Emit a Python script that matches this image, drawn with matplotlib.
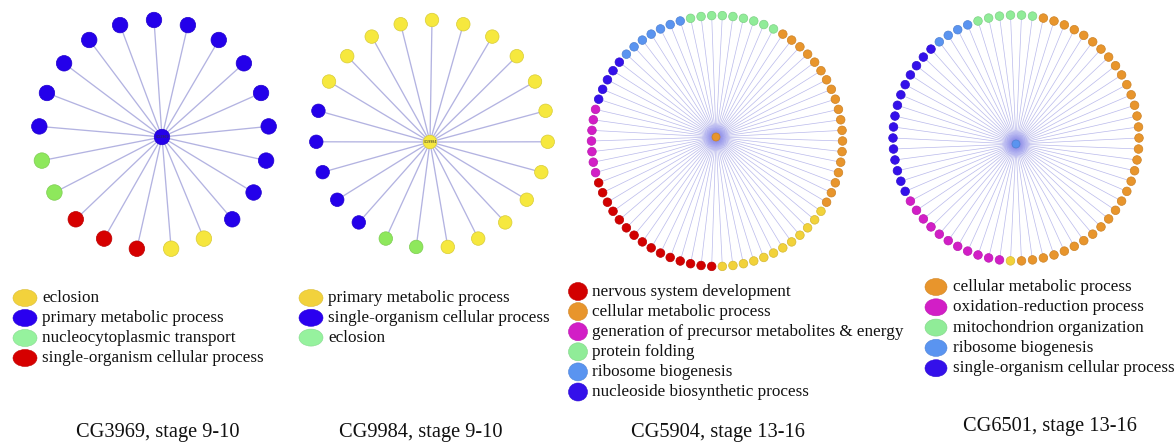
import numpy as np
import matplotlib
matplotlib.use("Agg")
import matplotlib.pyplot as plt
from matplotlib.patches import Circle, Ellipse
from matplotlib.collections import LineCollection
from matplotlib.colors import to_rgb

plt.rcParams["font.family"] = ["Liberation Serif", "DejaVu Serif"]

# ---------------- data ----------------
titles = ["CG3969, stage 9-10", "CG9984, stage 9-10",
          "CG5904, stage 13-16", "CG6501, stage 13-16"]
hub_genes = ["CG3969", "CG9984", "CG5904", "CG6501"]

# CG3969 network
net1_terms = ["eclosion", "primary metabolic process",
              "nucleocytoplasmic transport", "single-organism cellular process"]
net1_node_colors = ["#f6e63e", "#2400ea", "#8ee85c", "#d60000"]
net1_key_colors = ["#f2d23c", "#2a00f0", "#96f29e", "#d60000"]
net1_ring_terms = ["primary metabolic process", "eclosion",
                   "single-organism cellular process", "nucleocytoplasmic transport",
                   "primary metabolic process"]
net1_ring_counts = [9, 2, 3, 2, 5]
net1_hub_term = "primary metabolic process"

# CG9984 network
net2_terms = ["primary metabolic process", "single-organism cellular process", "eclosion"]
net2_node_colors = ["#f6e83e", "#2400ea", "#8ee85c"]
net2_key_colors = ["#f2d23c", "#2a00f0", "#96f29e"]
net2_ring_terms = ["primary metabolic process", "eclosion",
                   "single-organism cellular process", "primary metabolic process"]
net2_ring_counts = [12, 2, 5, 4]
net2_hub_term = "primary metabolic process"

# CG5904 network
net3_terms = ["nervous system development", "cellular metabolic process",
              "generation of precursor metabolites & energy", "protein folding",
              "ribosome biogenesis", "nucleoside biosynthetic process"]
net3_node_colors = ["#d20000", "#e8952c", "#d21ec6", "#90ec98", "#5a94f0", "#3410ea"]
net3_key_colors = net3_node_colors
net3_extra_term, net3_extra_color = "unassigned", "#f2d23a"
net3_ring_terms = ["protein folding", "cellular metabolic process", "unassigned",
                   "nervous system development",
                   "generation of precursor metabolites & energy",
                   "nucleoside biosynthetic process", "ribosome biogenesis",
                   "protein folding"]
net3_ring_counts = [6, 19, 12, 15, 7, 5, 7, 3]
net3_hub_term = "cellular metabolic process"

# CG6501 network
net4_terms = ["cellular metabolic process", "oxidation-reduction process",
              "mitochondrion organization", "ribosome biogenesis",
              "single-organism cellular process"]
net4_node_colors = ["#e8952c", "#d21ec6", "#90ec98", "#5a94f0", "#3410ea"]
net4_key_colors = net4_node_colors
net4_extra_term, net4_extra_color = "unassigned", "#f2d23a"
net4_ring_terms = ["mitochondrion organization", "cellular metabolic process",
                   "unassigned", "oxidation-reduction process",
                   "single-organism cellular process", "ribosome biogenesis",
                   "mitochondrion organization"]
net4_ring_counts = [2, 33, 1, 11, 15, 4, 4]
net4_hub_term = "ribosome biogenesis"


# ---------------- drawing helpers ----------------
def darker(c, f=0.8):
    r, g, b = to_rgb(c)
    return (r * f, g * f, b * f)


def draw_network(ax, palette, ring_terms, ring_counts, hub_term, center, radius,
                 hub, start_deg, node_d, hub_d, edge_color, edge_lw, edge_alpha,
                 hub_label=None, glow=False):
    cx, cy = center
    rx, ry = radius
    hx, hy = hub
    seq = [t for t, n in zip(ring_terms, ring_counts) for _ in range(n)]
    n = len(seq)
    theta = np.deg2rad(start_deg + 360.0 * np.arange(n) / n)
    xs = cx + rx * np.sin(theta)
    ys = cy - ry * np.cos(theta)

    segs = [[(hx, hy), (x, y)] for x, y in zip(xs, ys)]
    ax.add_collection(LineCollection(segs, colors=edge_color, linewidths=edge_lw,
                                     alpha=edge_alpha, zorder=1))
    if glow:
        for r in np.linspace(14, 3, 9):
            ax.add_patch(Circle((hx, hy), r, fc="#6060f4", ec="none",
                                alpha=0.06, zorder=2))
    for term, x, y in zip(seq, xs, ys):
        col = palette[term]
        ax.add_patch(Circle((x, y), node_d / 2, fc=col, ec=darker(col, 0.88),
                            lw=0.5, zorder=3))
    hc = palette[hub_term]
    ax.add_patch(Circle((hx, hy), hub_d / 2, fc=hc, ec=darker(hc, 0.88),
                        lw=0.5, zorder=4))
    if hub_label:
        ax.text(hx, hy, hub_label, fontsize=2.4, ha="center", va="center",
                color="#333333", family="DejaVu Sans", zorder=5)


def draw_key(ax, terms, colors, x_mark, x_text, y0, dy, w, h, fs=12.3):
    for i, (t, c) in enumerate(zip(terms, colors)):
        y = y0 + i * dy
        ax.add_patch(Ellipse((x_mark, y), w, h, fc=c, ec=darker(c, 0.9), lw=0.4,
                             zorder=3))
        ax.text(x_text, y, t, fontsize=fs, ha="left", va="center",
                color="#111111")


# ---------------- figure ----------------
W, H = 1174, 442
fig = plt.figure(figsize=(W / 100, H / 100), dpi=100)
ax = fig.add_axes([0, 0, 1, 1])
ax.set_xlim(0, W)
ax.set_ylim(H, 0)
ax.set_aspect("equal")
ax.axis("off")

pal1 = dict(zip(net1_terms, net1_node_colors))
pal2 = dict(zip(net2_terms, net2_node_colors))
pal3 = dict(zip(net3_terms, net3_node_colors))
pal3[net3_extra_term] = net3_extra_color
pal4 = dict(zip(net4_terms, net4_node_colors))
pal4[net4_extra_term] = net4_extra_color

draw_network(ax, pal1, net1_ring_terms, net1_ring_counts, net1_hub_term,
             center=(154, 135), radius=(115, 115), hub=(162, 137), start_deg=0,
             node_d=15.5, hub_d=15.5, edge_color="#a6a6dc", edge_lw=0.95,
             edge_alpha=0.85, hub_label=hub_genes[0])
draw_network(ax, pal2, net2_ring_terms, net2_ring_counts, net2_hub_term,
             center=(432, 134), radius=(116, 114), hub=(430, 142), start_deg=0,
             node_d=13.5, hub_d=13.5, edge_color="#a6a6dc", edge_lw=0.95,
             edge_alpha=0.85, hub_label=hub_genes[1])
draw_network(ax, pal3, net3_ring_terms, net3_ring_counts, net3_hub_term,
             center=(717, 141), radius=(125.5, 125.5), hub=(716, 137),
             start_deg=360 / 148, node_d=8.6, hub_d=8.0, edge_color="#a8a8e6",
             edge_lw=0.5, edge_alpha=0.8, glow=True)
draw_network(ax, pal4, net4_ring_terms, net4_ring_counts, net4_hub_term,
             center=(1016, 138), radius=(123, 123), hub=(1016, 144),
             start_deg=360 / 140, node_d=8.6, hub_d=8.0, edge_color="#a8a8e6",
             edge_lw=0.5, edge_alpha=0.8, glow=True)

# keys
draw_key(ax, net1_terms, net1_key_colors, 25, 42, 298, 20, 24, 17)
draw_key(ax, net2_terms, net2_key_colors, 311, 328, 298, 19.8, 24, 17)
draw_key(ax, net3_terms, net3_key_colors, 578, 592, 291.5, 20.1, 19, 18)
draw_key(ax, net4_terms, net4_key_colors, 936, 953, 287, 20.3, 22, 17)

# titles
title_x = [158, 421, 718, 1050]
title_y = [437, 437, 437, 431]
for t, x, y in zip(titles, title_x, title_y):
    ax.text(x, y, t, fontsize=14.7, ha="center", va="baseline", color="#111111")

fig.savefig("out.png", dpi=100, facecolor="white")
